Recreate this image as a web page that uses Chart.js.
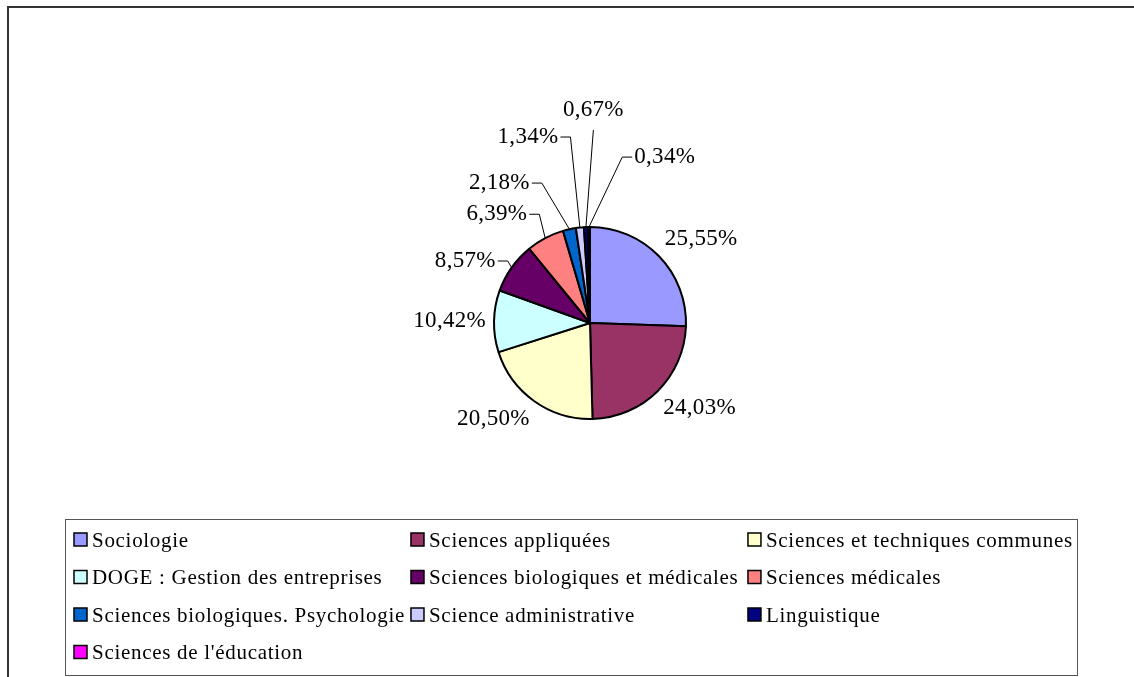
<!DOCTYPE html>
<html>
<head>
<meta charset="utf-8">
<script src="https://cdn.jsdelivr.net/npm/chart.js"></script>
<style>
  html, body { margin: 0; padding: 0; background: #fff; overflow: hidden; }
  #frame { position: absolute; left: 7px; top: 6px; width: 1200px; height: 800px; border: 2px solid #333; }
  #wrap { position: absolute; left: 0; top: 0; width: 1134px; height: 677px; }
</style>
</head>
<body>
<div id="frame"></div>
<div id="wrap"><canvas id="pieChart" width="1134" height="677"></canvas></div>
<script>
const categories = [
  'Sociologie',
  'Sciences appliquées',
  'Sciences et techniques communes',
  'DOGE : Gestion des entreprises',
  'Sciences biologiques et médicales',
  'Sciences médicales',
  'Sciences biologiques. Psychologie',
  'Science administrative',
  'Linguistique',
  "Sciences de l'éducation"
];
const shares = [25.55, 24.03, 20.50, 10.42, 8.57, 6.39, 2.18, 1.34, 0.67, 0.34];
const sliceColors = ['#9999FF', '#993366', '#FFFFCC', '#CCFFFF', '#660066',
                     '#FF8080', '#0066CC', '#CCCCFF', '#000080', '#FF00FF'];

const percentLabels = shares.map(v => v.toFixed(2).replace('.', ',') + '%');

// small slices get a leader line: elbow given as angle (deg, clockwise from top) and distance from centre
const leaderSpots = [null, null, null, null,
  {a: 307, d: 103, side: 'left'},
  {a: 335, d: 120, side: 'left'},
  {a: 341, d: 148, side: 'left'},
  {a: 354, d: 187, side: 'left'},
  {a: 1,   d: 193, side: 'top'},
  {a: 11,  d: 169, side: 'right'}
];

const pieLabels = {
  id: 'pieLabels',
  afterDatasetsDraw(chart) {
    const ctx = chart.ctx;
    const arcs = chart.getDatasetMeta(0).data;
    ctx.save();
    ctx.font = '23px "Liberation Serif"';
    ctx.letterSpacing = '0.3px';
    ctx.fillStyle = '#000';
    ctx.strokeStyle = '#000';
    ctx.lineWidth = 1;
    arcs.forEach((arc, i) => {
      const p = arc.getProps(['x', 'y', 'startAngle', 'endAngle', 'outerRadius'], true);
      const mid = (p.startAngle + p.endAngle) / 2;
      const text = percentLabels[i];
      const spot = leaderSpots[i];
      if (!spot) {
        const c = Math.cos(mid), s = Math.sin(mid);
        const px = p.x + c * (p.outerRadius + 8);
        const py = p.y + s * (p.outerRadius + 8);
        ctx.textAlign = c > 0.3 ? 'left' : (c < -0.3 ? 'right' : 'center');
        ctx.textBaseline = s > 0.3 ? 'top' : (s < -0.3 ? 'bottom' : 'middle');
        ctx.fillText(text, px, py);
        return;
      }
      const a = (spot.a - 90) * Math.PI / 180;
      const ex = p.x + Math.cos(a) * spot.d;
      const ey = p.y + Math.sin(a) * spot.d;
      const sx = p.x + Math.cos(mid) * p.outerRadius;
      const sy = p.y + Math.sin(mid) * p.outerRadius;
      ctx.beginPath();
      ctx.moveTo(sx, sy);
      ctx.lineTo(ex, ey);
      if (spot.side === 'left') {
        ctx.lineTo(ex - 10, ey);
        ctx.textAlign = 'right';
        ctx.textBaseline = 'middle';
        ctx.fillText(text, ex - 12, ey);
      } else if (spot.side === 'right') {
        ctx.lineTo(ex + 10, ey);
        ctx.textAlign = 'left';
        ctx.textBaseline = 'middle';
        ctx.fillText(text, ex + 12, ey);
      } else {
        ctx.textAlign = 'center';
        ctx.textBaseline = 'bottom';
        ctx.fillText(text, ex, ey - 9);
      }
      ctx.stroke();
    });
    ctx.restore();
  }
};

// legend drawn as a 3-column grid inside a framed box
const legendGrid = {
  id: 'legendGrid',
  afterDraw(chart) {
    const ctx = chart.ctx;
    const ds = chart.data.datasets[0];
    ctx.save();
    ctx.strokeStyle = '#555';
    ctx.lineWidth = 1;
    ctx.strokeRect(65.5, 519.5, 1012, 156);

    ctx.font = '21px "Liberation Serif"';
    ctx.letterSpacing = '0.7px';
    let widest = 0;
    chart.data.labels.forEach(l => { widest = Math.max(widest, ctx.measureText(l).width); });
    const colW = widest + 24;
    const cols = 3;
    chart.data.labels.forEach((label, i) => {
      const x = 74 + (i % cols) * colW;
      const y = 540 + Math.floor(i / cols) * 37.5;
      ctx.fillStyle = ds.backgroundColor[i];
      ctx.fillRect(x, y - 7, 13, 13);
      ctx.strokeStyle = '#000';
      ctx.lineWidth = 1.5;
      ctx.strokeRect(x, y - 7, 13, 13);
      ctx.fillStyle = '#000';
      ctx.textAlign = 'left';
      ctx.textBaseline = 'middle';
      ctx.fillText(label, x + 18, y + 1);
    });
    ctx.restore();
  }
};

const ctx = document.getElementById('pieChart').getContext('2d');
const pieChart = new Chart(ctx, {
  type: 'pie',
  data: {
    labels: categories,
    datasets: [{
      data: shares,
      backgroundColor: sliceColors,
      borderColor: '#000',
      borderWidth: 2,
      hoverOffset: 0,
      radius: 96
    }]
  },
  options: {
    responsive: false,
    animation: false,
    devicePixelRatio: 1,
    events: [],
    layout: { padding: { left: 480, right: 434, top: 213, bottom: 244 } },
    plugins: {
      legend: { display: false },
      tooltip: { enabled: false }
    }
  },
  plugins: [pieLabels, legendGrid]
});
</script>
</body>
</html>
